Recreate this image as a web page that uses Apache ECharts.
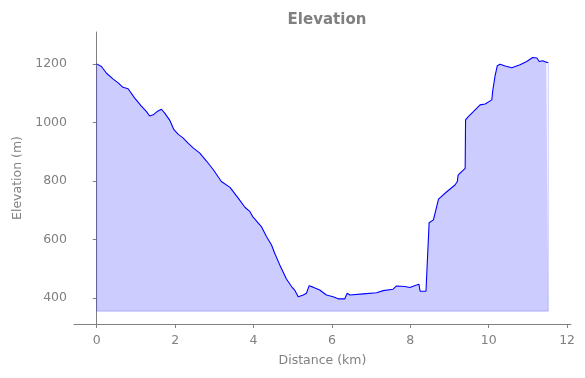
<!DOCTYPE html>
<html>
<head>
<meta charset="utf-8">
<script src="https://cdn.jsdelivr.net/npm/echarts@6/dist/echarts.min.js"></script>
<style>html,body{margin:0;padding:0;background:#fff}#c{width:585px;height:378px}</style>
</head>
<body>
<div id="c"></div>
<script>
const distance = [0, 0.12, 0.25, 0.42, 0.54, 0.67, 0.80, 0.84, 0.97, 1.14, 1.27, 1.35, 1.44, 1.54, 1.65, 1.74, 1.86, 1.97, 2.08, 2.20, 2.33, 2.46, 2.63, 2.80, 2.97, 3.18, 3.40, 3.61, 3.78, 3.91, 3.99, 4.20, 4.33, 4.46, 4.54, 4.67, 4.84, 4.97, 5.05, 5.14, 5.27, 5.35, 5.42, 5.52, 5.69, 5.86, 6.03, 6.16, 6.33, 6.39, 6.46, 6.80, 7.14, 7.31, 7.56, 7.65, 7.86, 7.99, 8.16, 8.22, 8.25, 8.40, 8.48, 8.59, 8.63, 8.72, 8.93, 9.14, 9.20, 9.22, 9.31, 9.40, 9.41, 9.48, 9.61, 9.78, 9.91, 10.08, 10.10, 10.16, 10.22, 10.29, 10.42, 10.59, 10.80, 10.97, 11.12, 11.23, 11.29, 11.38, 11.47, 11.52];
const elevation = [1200, 1191, 1168, 1148, 1136, 1120, 1115, 1111, 1083, 1056, 1037, 1022, 1026, 1037, 1045, 1031, 1008, 975, 959, 947, 929, 913, 895, 868, 839, 798, 778, 741, 710, 695, 676, 644, 610, 581, 553, 513, 465, 439, 427, 404, 410, 416, 442, 437, 427, 410, 404, 397, 397, 416, 410, 414, 418, 425, 430, 441, 439, 436, 444, 447, 423, 423, 657, 667, 670, 738, 763, 786, 798, 820, 832, 843, 1009, 1020, 1037, 1060, 1063, 1077, 1105, 1157, 1194, 1199, 1193, 1187, 1197, 1208, 1222, 1220, 1208, 1211, 1206, 1204];
const fillBase = 355;
const xTicks = [0, 2, 4, 6, 8, 10, 12];
const yTicks = [400, 600, 800, 1000, 1200];

const lineData = distance.map((d, i) => [d, elevation[i]]);
const last = distance.length - 1;
const outline = [[distance[0], elevation[0]], [distance[0], fillBase], [distance[last], fillBase], [distance[last], elevation[last]]];

const gray = '#808080';
const font = 'DejaVu Sans';
const chart = echarts.init(document.getElementById('c'), null, {renderer: 'canvas'});
chart.setOption({
  animation: false,
  backgroundColor: '#fff',
  title: {
    text: 'Elevation', left: 322, top: 8, textAlign: 'center',
    textStyle: {fontFamily: font, fontWeight: 'bold', fontSize: 15, color: gray}
  },
  grid: {left: 74, right: 14, top: 32, bottom: 54, containLabel: false},
  xAxis: {
    type: 'value', min: -0.58, max: 12.1,
    name: 'Distance (km)', nameLocation: 'middle', nameGap: 30,
    nameTextStyle: {fontFamily: font, fontSize: 12.5, color: gray},
    axisLine: {show: true, lineStyle: {color: gray, width: 1}},
    axisTick: {show: true, inside: false, length: 4, lineStyle: {color: gray}, customValues: xTicks},
    axisLabel: {fontFamily: font, fontSize: 12.5, color: gray, margin: 10, customValues: xTicks, formatter: v => String(v)},
    splitLine: {show: false}
  },
  yAxis: {
    type: 'value', min: 311, max: 1309,
    name: 'Elevation (m)', nameLocation: 'middle', nameGap: 49, nameRotate: 90,
    nameTextStyle: {fontFamily: font, fontSize: 12.5, color: gray},
    axisLine: {show: true, lineStyle: {color: gray, width: 1}},
    axisTick: {show: true, inside: false, length: 4, lineStyle: {color: gray}, customValues: yTicks},
    axisLabel: {fontFamily: font, fontSize: 12.5, color: gray, margin: 7, customValues: yTicks, formatter: v => String(v)},
    splitLine: {show: false}
  },
  series: [
    {
      type: 'line', data: lineData, symbol: 'none', z: 3,
      lineStyle: {color: '#0000ff', width: 1.1},
      areaStyle: {origin: fillBase, color: '#0000ff', opacity: 0.2}
    },
    {
      type: 'line', data: outline, symbol: 'none', z: 4,
      lineStyle: {color: '#0000ff', opacity: 0.2, width: 1}
    }
  ]
});
</script>
</body>
</html>
